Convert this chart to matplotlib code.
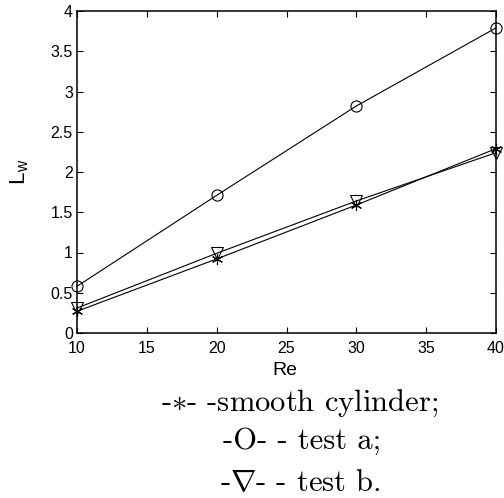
import numpy as np
import matplotlib
matplotlib.use('Agg')
import matplotlib.pyplot as plt

re_vals = [10, 20, 30, 40]
lw_smooth = [0.27, 0.92, 1.59, 2.29]
lw_test_a = [0.58, 1.71, 2.82, 3.79]
lw_test_b = [0.31, 0.99, 1.64, 2.24]

xticks = [10, 15, 20, 25, 30, 35, 40]
yticks = [0, 0.5, 1, 1.5, 2, 2.5, 3, 3.5, 4]

plt.rcParams['font.family'] = ['Liberation Sans', 'DejaVu Sans']
plt.rcParams['mathtext.fontset'] = 'cm'

fig = plt.figure(figsize=(5.04, 4.98), dpi=100)
ax = fig.add_axes([77/504, 1 - 333/498, (496-77)/504, (333-11)/498])

ax.plot(re_vals, lw_smooth, color='black', linewidth=0.8, marker=(6, 2, 0),
        markersize=8, markeredgewidth=0.8, clip_on=False)
ax.plot(re_vals, lw_test_a, color='black', linewidth=0.8, marker='o',
        markersize=8, markerfacecolor='none', markeredgewidth=0.8, clip_on=False)
ax.plot(re_vals, lw_test_b, color='black', linewidth=0.8, marker='v',
        markersize=9, markerfacecolor='none', markeredgewidth=0.8, clip_on=False)

ax.set_xlim(10, 40)
ax.set_ylim(0, 4)
ax.set_xticks(xticks)
ax.set_yticks(yticks)
ax.set_xticklabels([f'{v:g}' for v in xticks])
ax.set_yticklabels([f'{v:g}' for v in yticks])
ax.tick_params(direction='in', top=True, right=True, labelsize=11.5, length=4, width=0.8)
ax.tick_params(axis='x', pad=6)
ax.tick_params(axis='y', pad=3)
for s in ax.spines.values():
    s.set_linewidth(1.1)

fig.text(285/504, 1 - 370/498, 'Re', ha='center', va='center', fontsize=14)
fig.text(20/504, 1 - 172/498, r'L$_\mathregular{w}$', ha='center', va='center', fontsize=16, rotation=90)

cap = dict(ha='center', va='baseline', fontsize=22, family=['cmr10', 'DejaVu Serif'])
fig.text(300/504, 1 - 411/498, r'-$\ast$- -smooth cylinder;', **cap)
fig.text(302/504, 1 - 449/498, '-O- - test a;', **cap)
fig.text(300/504, 1 - 491/498, r'-$\nabla$- - test b.', **cap)

fig.savefig('out.png', dpi=100)
